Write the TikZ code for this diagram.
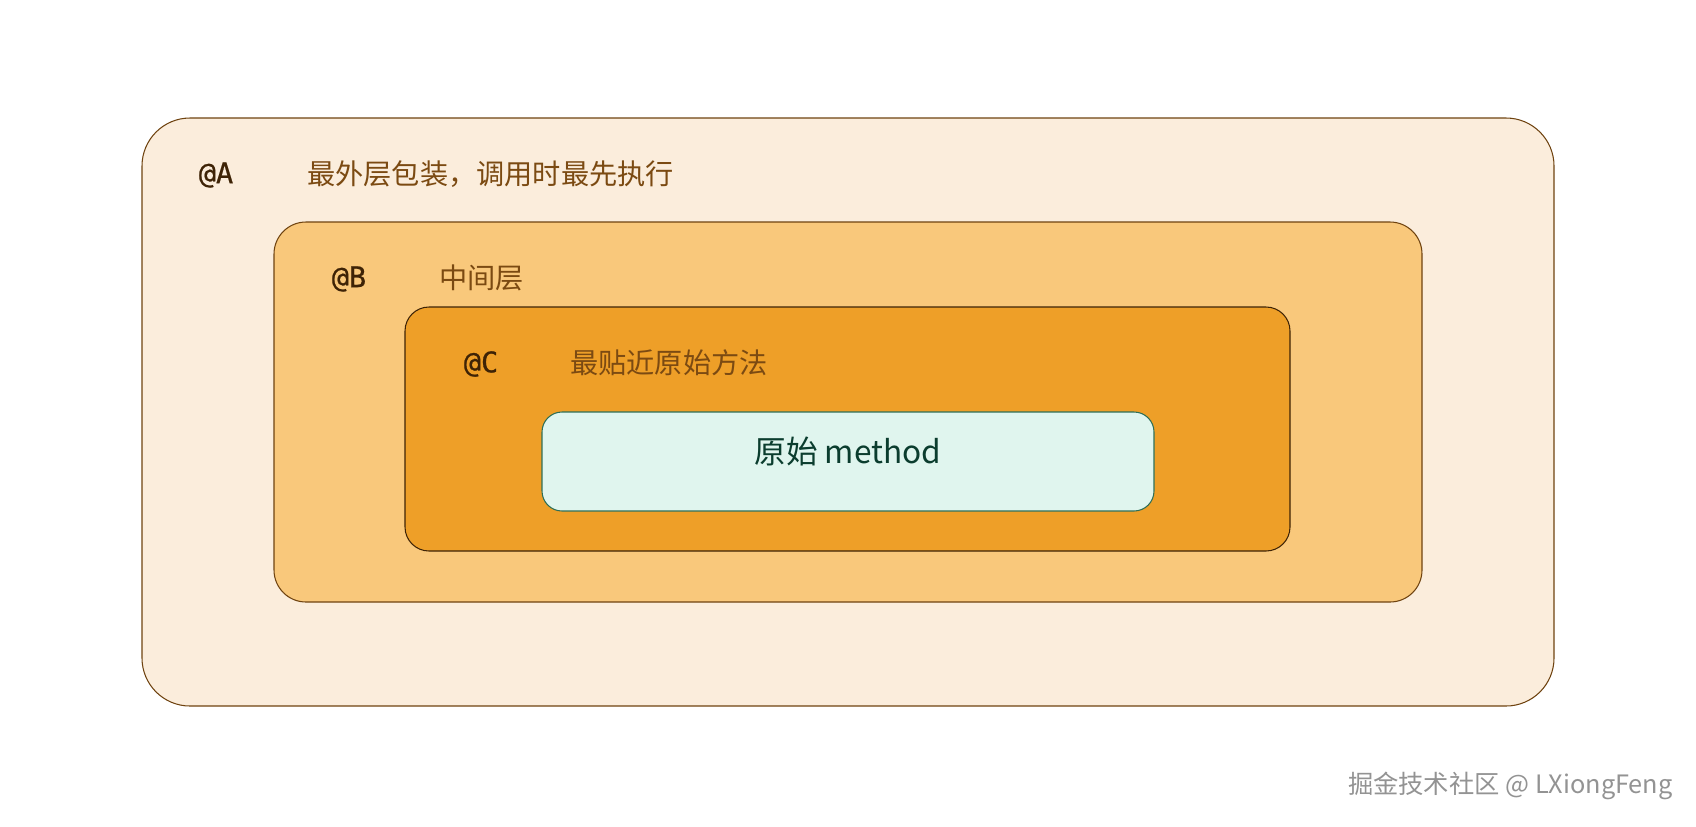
\documentclass[tikz,border=0pt]{standalone}
\usepackage{fontspec}
\setmainfont{Noto Sans CJK SC}
\newfontfamily\tagfont[FakeBold=0.7]{DejaVu Sans Mono}
\begin{document}
\begin{tikzpicture}[x=0.02cm, y=-0.02cm,
  layer/.style={line width=0.6pt},
  tag/.style={font=\tagfont\fontsize{16.2}{19}\selectfont, text=tagcol, inner sep=0pt},
  note/.style={font=\fontsize{16.05}{19}\selectfont, text=notecol, anchor=west, inner sep=0pt}]
\definecolor{tagcol}{HTML}{3E2306}
\definecolor{notecol}{HTML}{7B4A12}
\useasboundingbox (0,0) rectangle (1696,826);
\definecolor{col}{HTML}{FBEDDC}
\filldraw[layer, fill=col, draw=notecol!90!black, rounded corners=48*0.02cm] (142,118) rectangle (1554,706);
\definecolor{col}{HTML}{F9C87B}
\filldraw[layer, fill=col, draw=notecol!90!black, rounded corners=32*0.02cm] (274,222) rectangle (1422,602);
\definecolor{col}{HTML}{EE9F28}
\filldraw[layer, fill=col, draw=tagcol, rounded corners=24*0.02cm] (405,307) rectangle (1290,551);
\definecolor{col}{HTML}{E0F5EE}
\definecolor{edge}{HTML}{2E6E55}
\filldraw[layer, fill=col, draw=edge, rounded corners=20*0.02cm] (542,412) rectangle (1154,511);
\node[tag] (tagA) at (216,175) {@A};
\node[note] (noteA) at (307,174) {最外层包装，调用时最先执行};
\node[tag] (tagB) at (349,279) {@B};
\node[note] (noteB) at (439,278) {中间层};
\node[tag] (tagC) at (481,364) {@C};
\node[note] (noteC) at (570,363) {最贴近原始方法};
\definecolor{col}{HTML}{0B3D2E}
\node[font=\fontsize{18}{22}\selectfont, text=col, inner sep=0pt] (method) at (848,451) {原始 method};
\node[font=\fontsize{14.4}{17}\selectfont, text=gray!85, anchor=east, inner sep=0pt] (mark) at (1673,786) {掘金技术社区 @ LXiongFeng};
\end{tikzpicture}
\end{document}
